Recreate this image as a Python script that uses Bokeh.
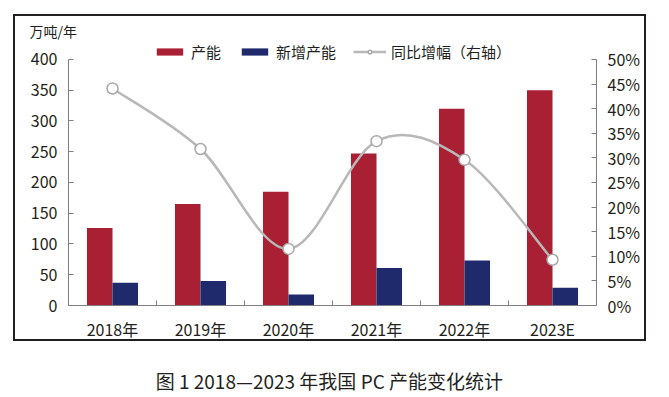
from bokeh.plotting import figure
from bokeh.models import (Range1d, LinearAxis, FixedTicker, NumeralTickFormatter,
                          ColumnDataSource, Legend, LegendItem, Label, Title, Spacer)
from bokeh.layouts import column, row
from bokeh.embed import file_html
from bokeh.resources import INLINE

categories = ["2018年", "2019年", "2020年", "2021年", "2022年", "2023E"]
capacity = [126, 165, 185, 247, 320, 350]
new_capacity = [37, 40, 18, 61, 73, 29]
growth = [0.441, 0.318, 0.115, 0.334, 0.296, 0.093]
left_ticks = [0, 50, 100, 150, 200, 250, 300, 350, 400]
right_ticks = [0, 0.05, 0.10, 0.15, 0.20, 0.25, 0.30, 0.35, 0.40, 0.45, 0.50]

RED = "#A91F33"
NAVY = "#1F2A6C"
GREY = "#B8B8B8"
TXT = "#231F20"
AX = "#808080"
NUMFONT = "Noto Sans CJK SC"
CJK = "Noto Sans CJK SC"

n = len(categories)
centers = [i + 0.5 for i in range(n)]
YMAX = 430.8

p = figure(width=633, height=327, output_backend="svg", toolbar_location=None,
           x_range=Range1d(0, n), y_range=Range1d(0, YMAX),
           min_border_left=53, min_border_right=52, min_border_top=24, min_border_bottom=37,
           outline_line_color=None, background_fill_color="white", border_fill_color="white")
p.styles = {"border": "2px solid #231f20"}
p.extra_y_ranges = {"right": Range1d(0, YMAX / 800.0)}
p.xgrid.visible = False
p.ygrid.visible = False

src = ColumnDataSource(dict(
    xc=[c - 0.145 for c in centers], xn=[c + 0.145 for c in centers],
    cap=capacity, new=new_capacity))
r_cap = p.vbar(x="xc", top="cap", width=0.29, source=src, fill_color=RED, line_color=None)
r_new = p.vbar(x="xn", top="new", width=0.29, source=src, fill_color=NAVY, line_color=None)

# smoothed growth line (Catmull-Rom style Bezier through the data points)
x0, y0, x1, y1, cx0, cy0, cx1, cy1 = [], [], [], [], [], [], [], []
for i in range(n - 1):
    pm = max(i - 1, 0)
    pp = min(i + 2, n - 1)
    x0.append(centers[i]); y0.append(growth[i])
    x1.append(centers[i + 1]); y1.append(growth[i + 1])
    cx0.append(centers[i] + (centers[i + 1] - centers[pm]) / 6.0)
    cy0.append(growth[i] + (growth[i + 1] - growth[pm]) / 6.0)
    cx1.append(centers[i + 1] - (centers[pp] - centers[i]) / 6.0)
    cy1.append(growth[i + 1] - (growth[pp] - growth[i]) / 6.0)
r_line = p.bezier(x0=x0, y0=y0, x1=x1, y1=y1, cx0=cx0, cy0=cy0, cx1=cx1, cy1=cy1,
                  y_range_name="right", line_color=GREY, line_width=2.5)
r_pts = p.scatter(x=centers, y=growth, y_range_name="right", marker="circle", size=11,
                  fill_color="white", line_color="#A8A8A8", line_width=1.5)

# axes
xa = p.xaxis[0]
xa.ticker = FixedTicker(ticks=centers, minor_ticks=list(range(n + 1)))
xa.major_label_overrides = {c: lab for c, lab in zip(centers, categories)}
xa.major_tick_line_color = None
xa.minor_tick_in = 5
xa.minor_tick_out = 0
xa.minor_tick_line_color = AX
xa.axis_line_color = AX
xa.major_label_standoff = 5
xa.major_label_text_font = NUMFONT
xa.major_label_text_font_size = "16px"
xa.major_label_text_color = TXT

ya = p.yaxis[0]
ya.ticker = FixedTicker(ticks=left_ticks)
ya.bounds = (0, 400)
ya.major_tick_in = 5
ya.major_tick_out = 0
ya.minor_tick_line_color = None
ya.axis_line_color = AX
ya.major_tick_line_color = AX
ya.major_label_standoff = 11
ya.major_label_text_font = NUMFONT
ya.major_label_text_font_size = "16px"
ya.major_label_text_color = TXT

ra = LinearAxis(y_range_name="right", ticker=FixedTicker(ticks=right_ticks),
                formatter=NumeralTickFormatter(format="0%"), bounds=(0, 0.5))
ra.major_tick_in = 5
ra.major_tick_out = 0
ra.minor_tick_line_color = None
ra.axis_line_color = AX
ra.major_tick_line_color = AX
ra.major_label_standoff = 11
ra.major_label_text_font = NUMFONT
ra.major_label_text_font_size = "16px"
ra.major_label_text_color = TXT
p.add_layout(ra, "right")

p.add_layout(Title(text="万吨/年", align="left", offset=-39, standoff=0,
                   text_font=CJK, text_font_size="14px", text_font_style="normal",
                   text_color=TXT), "above")

legend = Legend(items=[LegendItem(label="产能", renderers=[r_cap]),
                       LegendItem(label="新增产能", renderers=[r_new]),
                       LegendItem(label="同比增幅（右轴）", renderers=[r_line, r_pts])],
                location="top_center", orientation="horizontal",
                glyph_width=33, glyph_height=9, label_height=20, label_standoff=5,
                spacing=17, padding=0, margin=1,
                label_text_font=CJK, label_text_font_size="15px", label_text_color=TXT,
                border_line_color=None, background_fill_alpha=0)
p.add_layout(legend)

cap = figure(width=662, height=54, output_backend="svg", toolbar_location=None,
             x_range=Range1d(0, 1), y_range=Range1d(0, 1),
             min_border_left=0, min_border_right=0, min_border_top=0, min_border_bottom=0,
             outline_line_color=None)
cap.axis.visible = False
cap.xgrid.visible = False
cap.ygrid.visible = False
cap.add_layout(Label(x=0.5, y=0.28, text="图 1  2018—2023 年我国 PC 产能变化统计",
                     text_font=CJK, text_font_size="19px", text_color=TXT,
                     text_align="center", text_baseline="middle"))

layout = column(Spacer(height=14), row(Spacer(width=13), p), cap)
open("out.html", "w").write(file_html(layout, INLINE))
